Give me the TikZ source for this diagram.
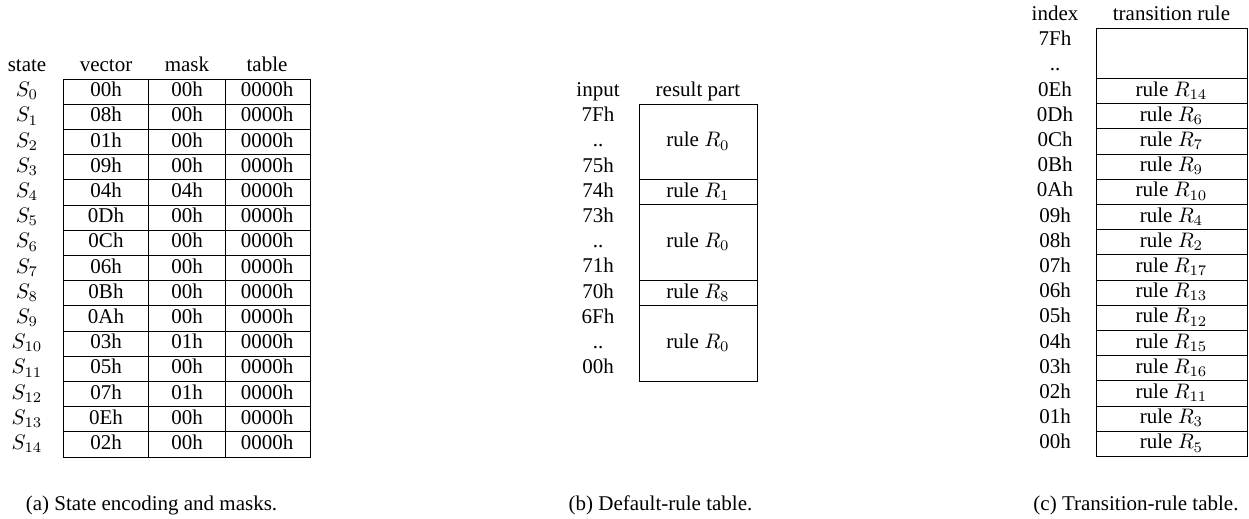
\documentclass[tikz,border=0pt]{standalone}
\usepackage{fontspec}
\setmainfont{Liberation Serif}
\begin{document}
\begin{tikzpicture}[x=0.47619pt,y=-0.47619pt,
  cell/.style={draw, line width=0.4pt},
  txt/.style={anchor=base, inner sep=0pt, font=\fontsize{10}{12}\selectfont}]
\useasboundingbox (0,0) rectangle (1249,519);
\def\rh{25.2}
% ---------- (a) ----------
\node[txt] (ha1) at (27,71.5) {state};
\node[txt] (ha2) at (106,71.5) {vector};
\node[txt] (ha3) at (187,71.5) {mask};
\node[txt] (ha4) at (267,71.5) {table};
\foreach \v/\m [count=\i from 0] in {00h/00h,08h/00h,01h/00h,09h/00h,04h/04h,0Dh/00h,0Ch/00h,06h/00h,0Bh/00h,0Ah/00h,03h/01h,05h/00h,07h/01h,0Eh/00h,02h/00h}{
  \pgfmathsetmacro\tp{79+\rh*\i}
  \pgfmathsetmacro\bt{\tp+\rh}
  \pgfmathsetmacro\bl{\bt-7.5}
  \draw[cell] (63,\tp) rectangle (148,\bt);
  \draw[cell] (148,\tp) rectangle (225,\bt);
  \draw[cell] (225,\tp) rectangle (310,\bt);
  \node[txt] (as\i) at (27,\bl) {$S_{\i}$};
  \node[txt] (av\i) at (106,\bl) {\v};
  \node[txt] (am\i) at (187,\bl) {\m};
  \node[txt] (at\i) at (267,\bl) {0000h};
}
\node[txt] (capa) at (151.5,511) {(a) State encoding and masks.};
% ---------- (b) ----------
\node[txt] (hb1) at (598,96.5) {input};
\node[txt] (hb2) at (698,96.5) {result part};
\foreach \l [count=\i from 0] in {7Fh,..,75h,74h,73h,..,71h,70h,6Fh,..,00h}{
  \pgfmathsetmacro\bl{104+\rh*\i+17.7}
  \node[txt] (bi\i) at (598,\bl) {\l};
}
\foreach \s/\n/\r [count=\k] in {0/3/0,3/1/1,4/3/0,7/1/8,8/3/0}{
  \pgfmathsetmacro\tp{104+\rh*\s}
  \pgfmathsetmacro\bt{104+\rh*(\s+\n)}
  \pgfmathsetmacro\bl{104+\rh*(\s+(\n-1)/2)+17.7}
  \draw[cell] (639,\tp) rectangle (757,\bt);
  \node[txt] (br\k) at (698,\bl) {rule $R_{\r}$};
}
\node[txt] (capb) at (660.5,511) {(b) Default-rule table.};
% ---------- (c) ----------
\node[txt] (hc1) at (1055,20.5) {index};
\node[txt] (hc2) at (1171.5,20.5) {transition rule};
\node[txt] (ci0) at (1055,45.7) {7Fh};
\node[txt] (ci1) at (1055,70.9) {..};
\draw[cell] (1096,28) rectangle (1247,28+2*\rh);
\foreach \l/\r [count=\i from 2] in {0Eh/14,0Dh/6,0Ch/7,0Bh/9,0Ah/10,09h/4,08h/2,07h/17,06h/13,05h/12,04h/15,03h/16,02h/11,01h/3,00h/5}{
  \pgfmathsetmacro\tp{28+\rh*\i}
  \pgfmathsetmacro\bt{\tp+\rh}
  \pgfmathsetmacro\bl{\bt-7.5}
  \draw[cell] (1096,\tp) rectangle (1247,\bt);
  \node[txt] (ci\i) at (1055,\bl) {\l};
  \node[txt] (cr\i) at (1171.5,\bl) {rule $R_{\r}$};
}
\node[txt] (capc) at (1136,511) {(c) Transition-rule table.};
\end{tikzpicture}
\end{document}
